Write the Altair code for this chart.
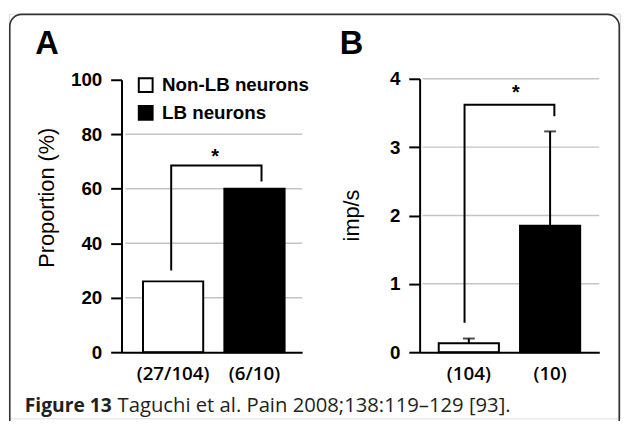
import altair as alt
import pandas as pd

# ---------------- data ----------------
groups = ["Non-LB neurons", "LB neurons"]
fill_colors = ["white", "black"]

# Panel A : proportion (%)
cats_a = ["(27/104)", "(6/10)"]
vals_a = [26, 60]
ticks_a = [0, 20, 40, 60, 80, 100]
grid_a = [20, 40, 60, 80]
bracket_a = [30, 68.5, 68.5, 62.7]
star_a = 73

# Panel B : imp/s
cats_b = ["(104)", "(10)"]
vals_b = [0.13, 1.85]
err_b = [0.20, 3.23]
ticks_b = [0, 1, 2, 3, 4]
grid_b = [1, 2, 3, 4]
bracket_b = [0.43, 3.62, 3.62, 3.45]
star_b = 3.82

caption_bold = "Figure 13"
caption_rest = "Taguchi et al. Pain 2008;138:119\u2013129 [93]."

# ---------------- layout (view pixels) ----------------
W, H = 619, 410
AX_Y = 343          # baseline of both panels
AXIS_FONT = "Liberation Sans"
LABEL_X_FONT = "Open Sans"


def fill_scale():
    return alt.Scale(domain=groups, range=fill_colors)


def xa():
    return alt.Scale(domain=cats_a, range=[114, 297], paddingInner=0.26,
                     paddingOuter=0.24, align=0.55)


def ya():
    return alt.Scale(domain=[0, 100], range=[AX_Y, 67], nice=False)


def xb():
    return alt.Scale(domain=cats_b, range=[416, 598], paddingInner=0.26,
                     paddingOuter=0.235, align=0.5)


def yb():
    return alt.Scale(domain=[0, 4], range=[AX_Y, 66], nice=False)


def y_axis(values, title, offset, title_x, title_y):
    return alt.Axis(orient="left", offset=offset, values=values, title=title,
                    grid=False, domainColor="black", domainWidth=2,
                    tickColor="black", tickWidth=2, tickSize=11,
                    labelFont=AXIS_FONT, labelFontSize=19, labelFontWeight="bold",
                    labelColor="black", labelPadding=9,
                    titleFont=AXIS_FONT, titleFontSize=22, titleFontWeight="normal",
                    titleColor="black", titleX=title_x, titleY=title_y,
                    titleAngle=270, titleBaseline="middle", titleAlign="center",
                    zindex=1)


def x_axis():
    return alt.Axis(orient="bottom", offset=AX_Y - H, ticks=False, tickSize=0,
                    domainColor="black", domainWidth=2, grid=False, title=None,
                    labelFont=LABEL_X_FONT, labelFontSize=19, labelFontWeight=600,
                    labelColor="black", labelPadding=13, labelAngle=0, zindex=1)


# ---------------- panel A ----------------
df_a = pd.DataFrame({"cat": cats_a, "val": vals_a, "group": groups})
df_grid_a = pd.DataFrame({"g": grid_a})
df_br_a = pd.DataFrame({"cat": [cats_a[0], cats_a[0], cats_a[1], cats_a[1]],
                        "y": bracket_a, "o": [0, 1, 2, 3]})
df_star_a = pd.DataFrame({"cat": [cats_a[1]], "y": [star_a], "t": ["*"]})

grid_a_layer = alt.Chart(df_grid_a).mark_rule(color="#c4c4c4", strokeWidth=1.5).encode(
    y=alt.Y("g:Q", scale=ya(), axis=None), x=alt.value(118), x2=alt.value(297))

bars_a = alt.Chart(df_a).mark_bar(stroke="black", strokeWidth=2).encode(
    x=alt.X("cat:N", scale=xa(), axis=x_axis(), sort=None),
    y=alt.Y("val:Q", scale=ya(),
            axis=y_axis(ticks_a, "Proportion (%)", -114, -76, 186)),
    fill=alt.Fill("group:N", scale=fill_scale(),
                  legend=alt.Legend(orient="none", legendX=129, legendY=63,
                                    title=None, symbolType="square", symbolSize=196,
                                    symbolStrokeColor="black", symbolStrokeWidth=2,
                                    labelFont=AXIS_FONT, labelFontSize=19,
                                    labelFontWeight="bold", labelColor="black",
                                    rowPadding=5, labelOffset=7, padding=0)))

br_a = alt.Chart(df_br_a).mark_line(color="black", strokeWidth=2, strokeJoin="miter").encode(
    x=alt.X("cat:N", scale=xa(), axis=None, sort=None),
    y=alt.Y("y:Q", scale=ya(), axis=None), order="o:Q")

star_a_layer = alt.Chart(df_star_a).mark_text(
    font=AXIS_FONT, fontSize=20, fontWeight="bold", color="black",
    baseline="middle", align="center", dx=-47, dy=4).encode(
    x=alt.X("cat:N", scale=xa(), axis=None, sort=None),
    y=alt.Y("y:Q", scale=ya(), axis=None), text="t:N")

# ---------------- panel B ----------------
df_b = pd.DataFrame({"cat": cats_b, "val": vals_b, "err": err_b, "group": groups})
df_grid_b = pd.DataFrame({"g": grid_b})
df_br_b = pd.DataFrame({"cat": [cats_b[0], cats_b[0], cats_b[1], cats_b[1]],
                        "y": bracket_b, "o": [0, 1, 2, 3]})
df_star_b = pd.DataFrame({"cat": [cats_b[1]], "y": [star_b], "t": ["*"]})

grid_b_layer = alt.Chart(df_grid_b).mark_rule(color="#c4c4c4", strokeWidth=1.5).encode(
    y=alt.Y("g:Q", scale=yb(), axis=None), x=alt.value(419), x2=alt.value(598))

bars_b = alt.Chart(df_b).mark_bar(stroke="black", strokeWidth=2).encode(
    x=alt.X("cat:N", scale=xb(), axis=x_axis(), sort=None),
    y=alt.Y("val:Q", scale=yb(),
            axis=y_axis(ticks_b, "imp/s", -416, -69, 204)),
    fill=alt.Fill("group:N", scale=fill_scale(), legend=None))

err_rule_b = alt.Chart(df_b).mark_rule(color="black", strokeWidth=2).encode(
    x=alt.X("cat:N", scale=xb(), axis=None, sort=None),
    y=alt.Y("val:Q", scale=yb(), axis=None), y2="err:Q")

err_cap_b = alt.Chart(df_b).mark_tick(color="black", thickness=2, size=12).encode(
    x=alt.X("cat:N", scale=xb(), axis=None, sort=None),
    y=alt.Y("err:Q", scale=yb(), axis=None))

br_b = alt.Chart(df_br_b).mark_line(color="black", strokeWidth=2, strokeJoin="miter").encode(
    x=alt.X("cat:N", scale=xb(), axis=None, sort=None),
    y=alt.Y("y:Q", scale=yb(), axis=None), order="o:Q")

star_b_layer = alt.Chart(df_star_b).mark_text(
    font=AXIS_FONT, fontSize=20, fontWeight="bold", color="black",
    baseline="middle", align="center", dx=-39, dy=2).encode(
    x=alt.X("cat:N", scale=xb(), axis=None, sort=None),
    y=alt.Y("y:Q", scale=yb(), axis=None), text="t:N")

# ---------------- frame, panel letters, caption ----------------
one = pd.DataFrame({"k": [0]})
border = alt.Chart(one).mark_rect(cornerRadius=12, fill="transparent",
                                  stroke="#333333", strokeWidth=1.6).encode(
    x=alt.value(0.8), x2=alt.value(618.2), y=alt.value(0.8), y2=alt.value(450))

letter_a = alt.Chart(pd.DataFrame({"t": ["A"]})).mark_text(
    font=AXIS_FONT, fontSize=33, fontWeight="bold", color="black",
    align="center", baseline="alphabetic").encode(
    text="t:N", x=alt.value(38.5), y=alt.value(41))

letter_b = alt.Chart(pd.DataFrame({"t": ["B"]})).mark_text(
    font=AXIS_FONT, fontSize=33, fontWeight="bold", color="black",
    align="center", baseline="alphabetic").encode(
    text="t:N", x=alt.value(347), y=alt.value(41))

cap1 = alt.Chart(pd.DataFrame({"t": [caption_bold]})).mark_text(
    font="Open Sans", fontSize=19.5, fontWeight="bold", color="#231f20",
    align="left", baseline="alphabetic").encode(
    text="t:N", x=alt.value(16), y=alt.value(404))

cap2 = alt.Chart(pd.DataFrame({"t": [caption_rest]})).mark_text(
    font="Open Sans", fontSize=20.5, fontWeight="normal", color="#231f20",
    align="left", baseline="alphabetic").encode(
    text="t:N", x=alt.value(110), y=alt.value(404))

chart = alt.layer(
    border,
    grid_a_layer, bars_a, br_a, star_a_layer,
    grid_b_layer, bars_b, err_rule_b, err_cap_b, br_b, star_b_layer,
    letter_a, letter_b, cap1, cap2,
).resolve_scale(
    x="independent", y="independent"
).properties(
    width=W, height=H,
    padding={"left": 1, "top": 3, "right": 1, "bottom": 0},
    autosize=alt.AutoSizeParams(type="none"),
    background="white",
).configure_view(strokeWidth=0).configure(font=AXIS_FONT)

chart.save("out.html", embed_options={"renderer": "svg", "actions": False})
